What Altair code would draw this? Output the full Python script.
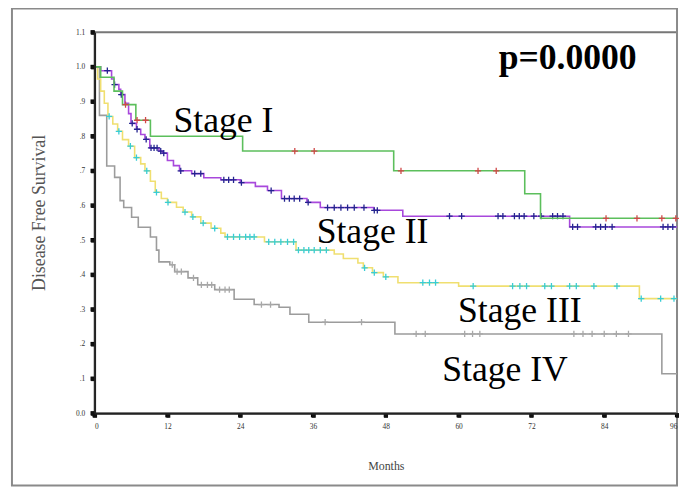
import altair as alt
import pandas as pd

END_MONTH = 96

stages = ["Stage I", "Stage II", "Stage III", "Stage IV"]

# Kaplan-Meier step curves: (month of step, survival after step)
stage1_t = [0, 1.0, 3.2, 4.6, 6.8, 9.2, 24.4, 49.3, 70.9, 73.5]
stage1_s = [1.0, 0.97, 0.93, 0.891, 0.846, 0.80, 0.757, 0.70, 0.634, 0.563]
stage1_cens = [5.1, 7.0, 8.4, 33.0, 36.2, 50.5, 63.2, 66.2, 84.3, 89.4, 93.5, 95.8]

stage2_t = [0, 1.0, 2.8, 3.2, 4.0, 4.3, 5.0, 5.6, 6.0, 6.9, 7.6, 8.3, 9.1, 10.6, 11.2,
            12.0, 13.0, 14.0, 16.0, 18.0, 20.8, 24.0, 26.5, 28.5, 30.8, 35.0, 37.2,
            46.0, 50.8, 78.3]
stage2_s = [1.0, 0.989, 0.965, 0.949, 0.935, 0.92, 0.895, 0.865, 0.837, 0.82, 0.805,
            0.791, 0.766, 0.757, 0.751, 0.73, 0.715, 0.70, 0.692, 0.68, 0.674, 0.666,
            0.655, 0.643, 0.62, 0.609, 0.594, 0.586, 0.569, 0.538]
stage2_cens = [2.1, 3.3, 4.4, 6.2, 7.0, 8.5, 9.3, 9.8, 10.3, 10.9, 11.4, 14.2, 16.5,
               17.5, 21.3, 22.1, 22.9, 24.2, 29.1, 31.3, 32.1, 32.9, 33.8, 35.2, 38.4,
               39.5, 40.6, 41.7, 42.8, 44.4, 46.1, 46.6, 58.5, 60.5, 66.5, 67.3, 69.2,
               70.0, 70.8, 72.4, 73.6, 75.5, 76.3, 77.2, 78.8, 79.6, 82.6, 83.4, 84.2,
               85.3, 93.7, 94.5, 95.3]

stage3_t = [0, 0.5, 1.0, 1.6, 2.2, 3.0, 3.8, 4.6, 5.6, 6.6, 7.6, 8.3, 9.2, 10.0, 11.0,
            12.0, 13.5, 14.6, 16.0, 17.5, 19.2, 20.8, 21.5, 28.0, 33.2, 39.5, 41.0,
            43.4, 44.3, 45.8, 47.6, 50.0, 60.0, 89.8]
stage3_s = [1.0, 0.965, 0.93, 0.895, 0.857, 0.835, 0.814, 0.79, 0.771, 0.738, 0.72,
            0.70, 0.67, 0.638, 0.62, 0.609, 0.595, 0.581, 0.567, 0.549, 0.534, 0.52,
            0.509, 0.495, 0.471, 0.46, 0.447, 0.434, 0.42, 0.406, 0.394, 0.377, 0.367,
            0.331]
stage3_cens = [2.4, 4.0, 5.9, 6.9, 8.6, 10.2, 12.1, 14.9, 16.2, 17.9, 19.8, 21.9, 22.9,
               23.9, 24.9, 25.6, 26.3, 28.7, 29.7, 30.7, 31.8, 32.8, 33.6, 34.5, 35.3,
               36.2, 37.2, 38.2, 44.5, 46.1, 48.0, 54.1, 55.2, 56.2, 62.4, 68.9, 70.1,
               71.2, 74.2, 75.3, 78.3, 79.4, 82.3, 86.1, 90.1, 93.3, 95.5]

stage4_t = [0, 0.8, 2.0, 3.3, 4.2, 4.8, 6.1, 7.2, 9.2, 10.2, 10.6, 12.4, 13.2, 15.4,
            17.0, 19.8, 23.0, 26.3, 30.4, 32.2, 35.3, 49.5, 93.5]
stage4_s = [1.0, 0.86, 0.714, 0.681, 0.614, 0.594, 0.566, 0.537, 0.509, 0.471, 0.437,
            0.429, 0.409, 0.391, 0.371, 0.357, 0.329, 0.314, 0.306, 0.286, 0.263, 0.229,
            0.114]
stage4_cens = [12.8, 13.6, 14.3, 16.3, 17.6, 18.6, 19.3, 20.6, 21.5, 22.2, 27.5, 29.0,
               38.0, 44.0, 53.0, 54.5, 61.0, 62.3, 63.5, 79.0, 80.5, 82.0, 84.0, 86.0,
               88.0]

line_colors = ["#5cbf5c", "#a848dc", "#f0df70", "#9c9c9c"]
mark_colors = ["#d04848", "#23238f", "#38cdd6", "#a8a8a8"]

label_text = ["Stage I", "Stage II", "Stage III", "Stage IV"]
label_month = [13.0, 36.6, 59.9, 57.3]
label_surv = [0.811, 0.491, 0.263, 0.094]

p_text = ["p=0.0000"]
p_month = [66.6]
p_surv = [0.994]

x_ticks = [0, 12, 24, 36, 48, 60, 72, 84, 96]
y_ticks = [0, 0.1, 0.2, 0.3, 0.4, 0.5, 0.6, 0.7, 0.8, 0.9, 1.0, 1.1]

series = [
    (stage1_t, stage1_s, stage1_cens),
    (stage2_t, stage2_s, stage2_cens),
    (stage3_t, stage3_s, stage3_cens),
    (stage4_t, stage4_s, stage4_cens),
]


def step_value(ts, ss, t):
    v = ss[0]
    for ti, si in zip(ts, ss):
        if ti <= t:
            v = si
    return v


x_scale = alt.Scale(domain=[0, 96], nice=False, zero=False)
y_scale = alt.Scale(domain=[0, 1.1], nice=False, zero=False)

x_axis = alt.Axis(
    values=x_ticks, format="d", title="Months", grid=False, ticks=True, zindex=2,
    tickSize=4, tickWidth=4, tickColor="#111", tickOpacity=1,
    domainColor="#222", domainWidth=2,
    labelFont="Liberation Serif", labelFontSize=7.5, labelColor="#333", labelPadding=5,
    titleFont="Liberation Serif", titleFontSize=12, titleFontWeight="normal",
    titleColor="#444", titleY=53, titleBaseline="middle",
)
y_axis = alt.Axis(
    values=y_ticks, grid=False, title="Disease Free Survival", ticks=True, zindex=2,
    labelExpr="datum.value == 0 ? '0.0' : (datum.value >= 1 ? format(datum.value, '.1f') : replace(format(datum.value, '.1f'), '0.', '.'))",
    tickSize=4, tickWidth=4, tickColor="#111", tickOpacity=1,
    domainColor="#222", domainWidth=2,
    labelFont="Liberation Serif", labelFontSize=7.5, labelColor="#333", labelPadding=6,
    titleFont="Liberation Serif", titleFontSize=18, titleFontWeight="normal",
    titleColor="#555", titleX=-47, titleY=182,
)


def xe(field="month"):
    return alt.X(f"{field}:Q", scale=x_scale, axis=x_axis)


def ye(field="surv"):
    return alt.Y(f"{field}:Q", scale=y_scale, axis=y_axis)


layers = []

frame = alt.Chart(pd.DataFrame({"k": [0]})).mark_rect(
    fillOpacity=0, stroke="#8a8a8a", strokeWidth=2
).encode(
    x=alt.value(-83.5), x2=alt.value(588.5), y=alt.value(-24), y2=alt.value(458)
)
layers.append(frame)

for idx in [3, 2, 1, 0]:
    ts, ss, cens = series[idx]
    line_df = pd.DataFrame({
        "month": list(ts) + [END_MONTH],
        "surv": list(ss) + [ss[-1]],
    })
    mark_df = pd.DataFrame({
        "month": cens,
        "surv": [step_value(ts, ss, t) for t in cens],
    })
    ln = alt.Chart(line_df).mark_line(
        interpolate="step-after", color=line_colors[idx], strokeWidth=1.6
    ).encode(x=xe(), y=ye())
    pts = alt.Chart(mark_df).mark_point(
        shape="M-1,0L1,0M0,-1L0,1", filled=False, size=40,
        color=mark_colors[idx], strokeWidth=1.3, opacity=1
    ).encode(x=xe(), y=ye())
    layers.append(ln)
    layers.append(pts)

# square tick markers on both axes
xt = alt.Chart(pd.DataFrame({"month": x_ticks, "surv": [0] * len(x_ticks)})).mark_square(
    size=18, color="#000", opacity=1, yOffset=2
).encode(x=xe(), y=ye())
yt = alt.Chart(pd.DataFrame({"month": [0] * len(y_ticks), "surv": y_ticks})).mark_square(
    size=18, color="#000", opacity=1, xOffset=-2
).encode(x=xe(), y=ye())
layers.append(xt)
layers.append(yt)

labels = alt.Chart(pd.DataFrame({
    "label": label_text, "month": label_month, "surv": label_surv
})).mark_text(
    font="Liberation Serif", fontSize=36, color="#000", align="left",
    baseline="alphabetic"
).encode(x=xe(), y=ye(), text="label:N")
layers.append(labels)

ptxt = alt.Chart(pd.DataFrame({
    "label": p_text, "month": p_month, "surv": p_surv
})).mark_text(
    font="Liberation Serif", fontSize=36, fontWeight="bold", color="#000",
    align="left", baseline="alphabetic"
).encode(x=xe(), y=ye(), text="label:N")
layers.append(ptxt)

chart = alt.layer(*layers).properties(
    width=588.5, height=385,
    autosize=alt.AutoSizeParams(type="none"),
    padding={"left": 87.5, "top": 22, "right": 2, "bottom": 75},
    background="white",
).configure_view(stroke="#777", strokeWidth=2)

chart.save("out.html", embed_options={"renderer": "svg", "actions": False})
